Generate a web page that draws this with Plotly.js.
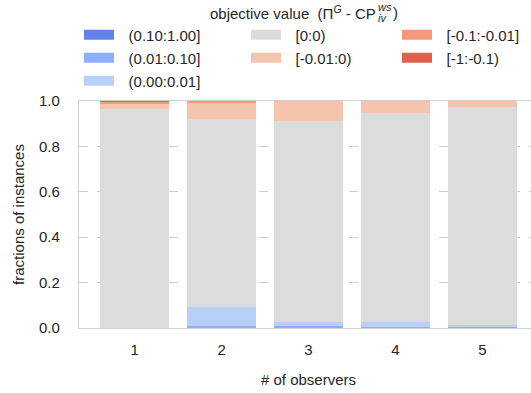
<!DOCTYPE html>
<html>
<head>
<meta charset="utf-8">
<script src="https://cdn.plot.ly/plotly-3.0.1.min.js"></script>
<style>
html,body{margin:0;padding:0;overflow:hidden;background:#fff;}
#chart{width:538px;height:393px;}
</style>
</head>
<body>
<div id="chart"></div>
<script>
// ---- data ----
const observers = [1, 2, 3, 4, 5];
const binLabels = ["(0.10:1.00]", "(0.01:0.10]", "(0.00:0.01]", "[0:0)", "[-0.01:0)", "[-0.1:-0.01]", "[-1:-0.1)"];
const binColors = ["#6282ea", "#8db0fe", "#b8d0f9", "#dcdcdc", "#f5c4ac", "#f49a7b", "#de604d"];
const posLarge  = [0.000, 0.000, 0.000, 0.000, 0.000];
const posMid    = [0.000, 0.011, 0.010, 0.006, 0.005];
const posSmall  = [0.000, 0.083, 0.018, 0.020, 0.007];
const zero      = [0.965, 0.825, 0.884, 0.922, 0.960];
const negSmall  = [0.022, 0.074, 0.088, 0.052, 0.028];
const negMid    = [0.007, 0.007, 0.000, 0.000, 0.000];
const negLarge  = [0.006, 0.000, 0.000, 0.000, 0.000];
const seriesValues = [posLarge, posMid, posSmall, zero, negSmall, negMid, negLarge];
const yTicks = [0, 0.2, 0.4, 0.6, 0.8, 1.0];

// legend placement (column / row) for each bin
const legendCol = [0, 0, 0, 1, 1, 2, 2];
const legendRow = [0, 1, 2, 0, 1, 0, 1];

const txtColor = "#262626";
const fontFam = "Liberation Sans, Arial, sans-serif";

const traces = [];
seriesValues.forEach((vals, i) => {
  traces.push({
    type: "bar", x: observers, y: vals, width: 0.8,
    marker: {color: binColors[i], line: {width: 0}},
    name: binLabels[i], showlegend: false, legendgroup: "g" + i, hoverinfo: "y+name"
  });
});
seriesValues.forEach((vals, i) => {
  traces.push({
    type: "scatter", mode: "lines", x: [null], y: [null],
    line: {color: binColors[i], width: 10},
    name: "\u00a0\u00a0\u200a" + binLabels[i], legendgroup: "g" + i, showlegend: true,
    legend: i === 0 ? "legend" : "legend" + (i + 1)
  });
});

// plot area: x 79..538, y 101..328
const L = 79, R = 538, T = 101, B = 328;
const px = v => (v - L) / (R - L);
const py = v => (B - v) / (B - T);
const colPx = [79, 246, 397];
const rowPx = [35, 58, 81];
const layout = {
  width: 538, height: 393,
  margin: {l: L, r: 538 - R, t: T, b: 393 - B, pad: 0},
  paper_bgcolor: "#fff", plot_bgcolor: "#fff",
  barmode: "stack",
  font: {family: fontFam, size: 15, color: txtColor},
  xaxis: {
    range: [0.36, 5.64], tickvals: observers, ticktext: observers.map(String),
    showgrid: false, zeroline: false,
    showline: true, mirror: true, linecolor: "#d0d0d0", linewidth: 1.2,
    ticks: "outside", ticklen: 8, tickcolor: "rgba(0,0,0,0)",
    tickfont: {size: 15, color: txtColor},
    title: {text: "# of observers", font: {size: 15, color: txtColor}, standoff: 17}
  },
  yaxis: {
    range: [0, 1], tickvals: yTicks, ticktext: yTicks.map(v => v.toFixed(1)),
    showgrid: true, gridcolor: "#cccccc", griddash: "dash", gridwidth: 1,
    zeroline: false,
    showline: true, mirror: true, linecolor: "#d0d0d0", linewidth: 1.2,
    ticks: "outside", ticklen: 15, tickcolor: "rgba(0,0,0,0)",
    tickfont: {size: 15, color: txtColor},
    title: {text: "fractions of instances", font: {size: 15, color: txtColor}, standoff: 10}
  },
  annotations: [
    {xref: "paper", yref: "paper", x: px(378), y: py(12), xanchor: "right", yanchor: "middle",
     showarrow: false, text: "objective value  (Π<sup><i>G</i></sup> - CP", font: {size: 15, color: txtColor}},
    {xref: "paper", yref: "paper", x: px(376), y: py(7), xanchor: "left", yanchor: "middle",
     showarrow: false, text: "<i>ws</i>", font: {size: 11, color: txtColor}},
    {xref: "paper", yref: "paper", x: px(376), y: py(18), xanchor: "left", yanchor: "middle",
     showarrow: false, text: "<i>iv</i>", font: {size: 11, color: txtColor}},
    {xref: "paper", yref: "paper", x: px(391), y: py(12), xanchor: "left", yanchor: "middle",
     showarrow: false, text: ")", font: {size: 15, color: txtColor}}
  ]
};
for (let i = 0; i < 7; i++) {
  const key = i === 0 ? "legend" : "legend" + (i + 1);
  layout[key] = {
    x: px(colPx[legendCol[i]]),
    y: py(rowPx[legendRow[i]]),
    xanchor: "left", yanchor: "middle",
    bgcolor: "rgba(0,0,0,0)", borderwidth: 0,
    itemclick: false, itemdoubleclick: false,
    font: {size: 15, color: txtColor, family: fontFam}
  };
}
Plotly.newPlot("chart", traces, layout, {displayModeBar: false, staticPlot: true});
</script>
</body>
</html>
